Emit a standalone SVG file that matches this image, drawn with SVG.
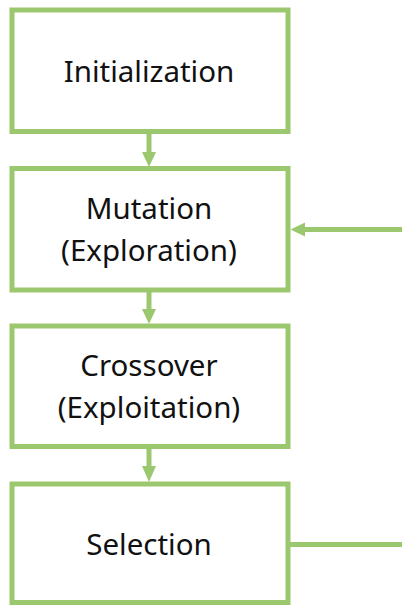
<svg xmlns="http://www.w3.org/2000/svg" width="402" height="606" viewBox="0 0 402 606">
<style>
.box{fill:#ffffff;stroke:#9BC86E;stroke-width:5}
.lbl{font-family:"Noto Sans","Open Sans",sans-serif;font-size:29.5px;fill:#111111;text-anchor:middle}
.con{stroke:#9BC86E;stroke-width:5;fill:none}
.head{fill:#9BC86E}
</style>
<rect x="0" y="0" width="402" height="606" fill="#ffffff"/>
<g id="connectors">
<line class="con" x1="149" y1="132" x2="149" y2="154"/>
<polygon class="head" points="142,152 156,152 149,167"/>
<line class="con" x1="149" y1="290" x2="149" y2="311"/>
<polygon class="head" points="142,309 156,309 149,324"/>
<line class="con" x1="149" y1="447" x2="149" y2="468"/>
<polygon class="head" points="142,466 156,466 149,482"/>
<line class="con" x1="402" y1="229.5" x2="303" y2="229.5"/>
<polygon class="head" points="305,222.5 305,236.5 290.5,229.5"/>
<line class="con" x1="290" y1="544.5" x2="402" y2="544.5"/>
</g>
<g id="init">
<rect class="box" x="12" y="10" width="276" height="121.5"/>
<text class="lbl" x="149" y="81.5">Initialization</text>
</g>
<g id="mutation">
<rect class="box" x="12" y="168.5" width="276" height="121.5"/>
<text class="lbl" x="149" y="219.3">Mutation</text>
<text class="lbl" x="149" y="260.5">(Exploration)</text>
</g>
<g id="crossover">
<rect class="box" x="12" y="326" width="276" height="120.5"/>
<text class="lbl" x="149" y="376.2">Crossover</text>
<text class="lbl" x="149" y="418.3">(Exploitation)</text>
</g>
<g id="selection">
<rect class="box" x="12" y="484" width="276" height="118.5"/>
<text class="lbl" x="149" y="555">Selection</text>
</g>
</svg>
